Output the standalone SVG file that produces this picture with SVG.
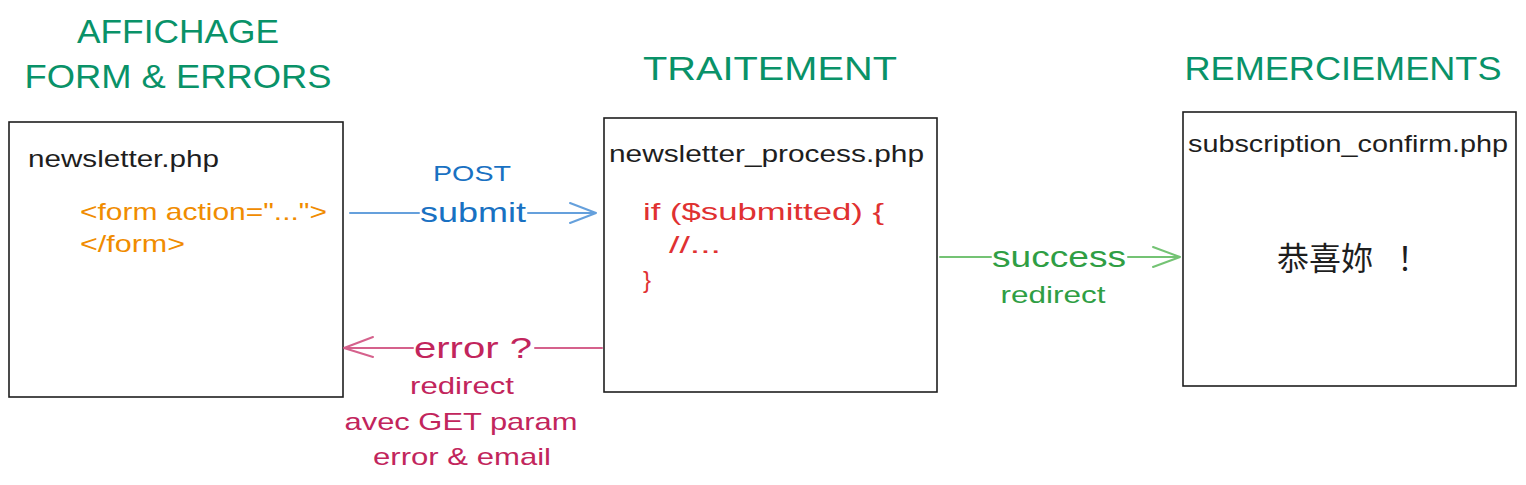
<svg xmlns="http://www.w3.org/2000/svg" width="1526" height="485" viewBox="0 0 1526 485">
<style>
.bg{fill:#ffffff}
.box{fill:#ffffff;stroke:#1e1e1e;stroke-width:1.6}
.t{font-family:"Liberation Sans","Noto Sans CJK SC",sans-serif}
.title{fill:#099268;font-size:34px}
.name{fill:#1e1e1e;font-size:24px}
.code-o{fill:#f08c00;font-size:24px}
.code-r{fill:#e03131;font-size:24px}
.blue{fill:#1971c2}
.green{fill:#2f9e44}
.pink{fill:#c2255c}
.cjk{font-family:"Noto Sans CJK SC","Noto Sans CJK TC",sans-serif;font-size:32px;fill:#1e1e1e}
.ln{fill:none;stroke-width:2;stroke-linecap:round;stroke-linejoin:round}
.lb{stroke:#4a8fd6;opacity:0.85}
.lg{stroke:#5cb85c;opacity:0.85}
.lp{stroke:#d0507f;opacity:0.9}
</style>
<rect class="bg" x="0" y="0" width="1526" height="485"/>

<g id="title-affichage">
<text class="t title" x="178" y="43" text-anchor="middle" textLength="202" lengthAdjust="spacingAndGlyphs">AFFICHAGE</text>
<text class="t title" x="178" y="88" text-anchor="middle" textLength="307" lengthAdjust="spacingAndGlyphs">FORM &amp; ERRORS</text>
</g>
<g id="title-traitement">
<text class="t title" x="770" y="80" text-anchor="middle" textLength="254" lengthAdjust="spacingAndGlyphs">TRAITEMENT</text>
</g>
<g id="title-remerciements">
<text class="t title" x="1343" y="80" text-anchor="middle" textLength="317" lengthAdjust="spacingAndGlyphs">REMERCIEMENTS</text>
</g>

<g id="node-newsletter">
<rect class="box" x="9" y="122" width="334" height="275"/>
<text class="t name" x="28" y="167" textLength="191" lengthAdjust="spacingAndGlyphs">newsletter.php</text>
<text class="t code-o" x="80" y="220" textLength="247" lengthAdjust="spacingAndGlyphs">&lt;form action="..."&gt;</text>
<text class="t code-o" x="80" y="252" textLength="105" lengthAdjust="spacingAndGlyphs">&lt;/form&gt;</text>
</g>

<g id="node-process">
<rect class="box" x="604" y="118" width="333" height="274"/>
<text class="t name" x="609" y="162" textLength="315" lengthAdjust="spacingAndGlyphs">newsletter_process.php</text>
<text class="t code-r" x="643" y="220" textLength="241" lengthAdjust="spacingAndGlyphs">if ($submitted) {</text>
<text class="t code-r" x="669" y="253" textLength="52" lengthAdjust="spacingAndGlyphs">//...</text>
<text class="t code-r" x="643" y="288">}</text>
</g>

<g id="node-confirm">
<rect class="box" x="1183" y="112" width="333" height="274"/>
<text class="t name" x="1188" y="152" textLength="320" lengthAdjust="spacingAndGlyphs">subscription_confirm.php</text>
<text class="cjk" x="1277" y="270">恭喜妳<tspan x="1397">！</tspan></text>
</g>

<g id="connectors">
<g id="edge-submit">
<path class="ln lb" d="M350 213 L419 213 M528 213 L596 213 M570 203 L596 213 L570 223"/>
<text class="t blue" x="472" y="181" text-anchor="middle" font-size="22" textLength="78" lengthAdjust="spacingAndGlyphs">POST</text>
<text class="t blue" x="473" y="222" text-anchor="middle" font-size="28" textLength="106" lengthAdjust="spacingAndGlyphs">submit</text>
</g>
<g id="edge-success">
<path class="ln lg" d="M940 257 L991 257 M1128 257 L1180 257 M1153 247 L1180 257 L1153 267"/>
<text class="t green" x="1059" y="267" text-anchor="middle" font-size="30" textLength="134" lengthAdjust="spacingAndGlyphs">success</text>
<text class="t green" x="1053" y="303" text-anchor="middle" font-size="24" textLength="105" lengthAdjust="spacingAndGlyphs">redirect</text>
</g>
<g id="edge-error">
<path class="ln lp" d="M602 348 L535 348 M413 348 L344 348 M373 337 L344 348 L373 357"/>
<text class="t pink" x="473" y="358" text-anchor="middle" font-size="30" textLength="118" lengthAdjust="spacingAndGlyphs">error ?</text>
<text class="t pink" x="462" y="394" text-anchor="middle" font-size="24" textLength="104" lengthAdjust="spacingAndGlyphs">redirect</text>
<text class="t pink" x="461" y="430" text-anchor="middle" font-size="24" textLength="233" lengthAdjust="spacingAndGlyphs">avec GET param</text>
<text class="t pink" x="462" y="465" text-anchor="middle" font-size="24" textLength="178" lengthAdjust="spacingAndGlyphs">error &amp; email</text>
</g>
</g>
</svg>
